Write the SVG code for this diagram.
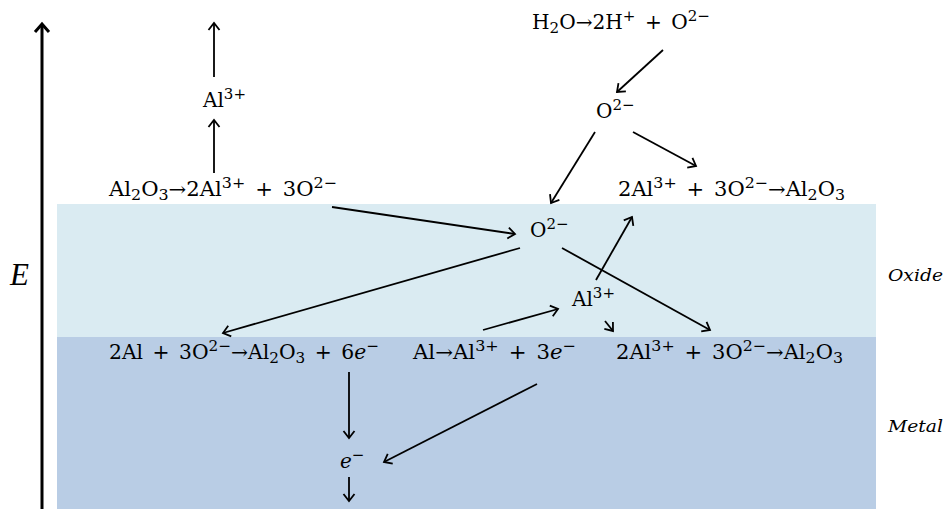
<svg xmlns="http://www.w3.org/2000/svg" width="950" height="509" viewBox="0 0 950 509">
<defs>
<marker id="ah" markerWidth="14" markerHeight="14" refX="10" refY="7" orient="auto" markerUnits="userSpaceOnUse">
<path d="M3,1.5 L10,7 L3,12.5" fill="none" stroke="#000" stroke-width="1.8"/>
</marker>
<marker id="ahBig" markerWidth="20" markerHeight="20" refX="12" refY="10" orient="auto" markerUnits="userSpaceOnUse">
<path d="M4,3 L12,10 L4,17" fill="none" stroke="#000" stroke-width="3"/>
</marker>
</defs>
<style>
text{font-family:"DejaVu Serif","Liberation Serif",serif;font-size:20px;fill:#000;word-spacing:3px}
.it{font-style:italic}
.sub{font-size:15px;baseline-shift:-4px}
.sup{font-size:15px;baseline-shift:8px}
.lbl{font-style:italic;font-size:16px;word-spacing:0}
.conn line{stroke:#000;stroke-width:1.8;marker-end:url(#ah)}
</style>
<rect id="oxide" x="57" y="204" width="819" height="133" fill="#daebf2"/>
<rect id="metal" x="57" y="337" width="819" height="172" fill="#b9cde5"/>
<g id="axis">
<line x1="42" y1="509" x2="42" y2="24" stroke="#000" stroke-width="3" marker-end="url(#ahBig)"/>
<text x="10" y="285" class="it" style="font-family:'Liberation Serif',serif;font-size:31px">E</text>
</g>
<text id="oxideLabel" class="lbl" x="888" y="281" textLength="55" lengthAdjust="spacingAndGlyphs">Oxide</text>
<text id="metalLabel" class="lbl" x="888" y="432" textLength="55" lengthAdjust="spacingAndGlyphs">Metal</text>
<g class="conn">
<line x1="214" y1="77" x2="214" y2="23"/>
<line x1="214" y1="173" x2="214" y2="120"/>
<line x1="663" y1="50" x2="617" y2="92"/>
<line x1="595" y1="132" x2="551" y2="203"/>
<line x1="633" y1="132" x2="696" y2="166"/>
<line x1="332" y1="207" x2="515" y2="234"/>
<line x1="520" y1="248" x2="223" y2="333"/>
<line x1="562" y1="248" x2="710" y2="330"/>
<line x1="596" y1="280" x2="632" y2="217"/>
<line x1="483" y1="330" x2="558" y2="309"/>
<line x1="605" y1="321" x2="613" y2="331"/>
<line x1="349" y1="372" x2="349" y2="438"/>
<line x1="537" y1="384" x2="384" y2="462"/>
<line x1="349" y1="477" x2="349" y2="501"/>
</g>
<g id="n1"><text x="109" y="196" textLength="228" lengthAdjust="spacingAndGlyphs">Al<tspan class="sub">2</tspan>O<tspan class="sub">3</tspan>→2Al<tspan class="sup">3+</tspan> + 3O<tspan class="sup">2−</tspan></text></g>
<g id="n2"><text x="203" y="107">Al<tspan class="sup">3+</tspan></text></g>
<g id="n3"><text x="532" y="29" textLength="178" lengthAdjust="spacingAndGlyphs">H<tspan class="sub">2</tspan>O→2H<tspan class="sup">+</tspan> + O<tspan class="sup">2−</tspan></text></g>
<g id="n4"><text x="596" y="118">O<tspan class="sup">2−</tspan></text></g>
<g id="n5"><text x="618" y="196" textLength="227" lengthAdjust="spacingAndGlyphs">2Al<tspan class="sup">3+</tspan> + 3O<tspan class="sup">2−</tspan>→Al<tspan class="sub">2</tspan>O<tspan class="sub">3</tspan></text></g>
<g id="n6"><text x="530" y="237">O<tspan class="sup">2−</tspan></text></g>
<g id="n7"><text x="572" y="306">Al<tspan class="sup">3+</tspan></text></g>
<g id="n8"><text x="109" y="359" textLength="270" lengthAdjust="spacingAndGlyphs">2Al + 3O<tspan class="sup">2−</tspan>→Al<tspan class="sub">2</tspan>O<tspan class="sub">3</tspan> + 6<tspan class="it">e</tspan><tspan class="sup">−</tspan></text></g>
<g id="n9"><text x="413" y="359" textLength="163" lengthAdjust="spacingAndGlyphs">Al→Al<tspan class="sup">3+</tspan> + 3<tspan class="it">e</tspan><tspan class="sup">−</tspan></text></g>
<g id="n10"><text x="616" y="359" textLength="227" lengthAdjust="spacingAndGlyphs">2Al<tspan class="sup">3+</tspan> + 3O<tspan class="sup">2−</tspan>→Al<tspan class="sub">2</tspan>O<tspan class="sub">3</tspan></text></g>
<g id="n11"><text x="340" y="468" class="it">e<tspan class="sup" style="font-style:normal">−</tspan></text></g>
</svg>
